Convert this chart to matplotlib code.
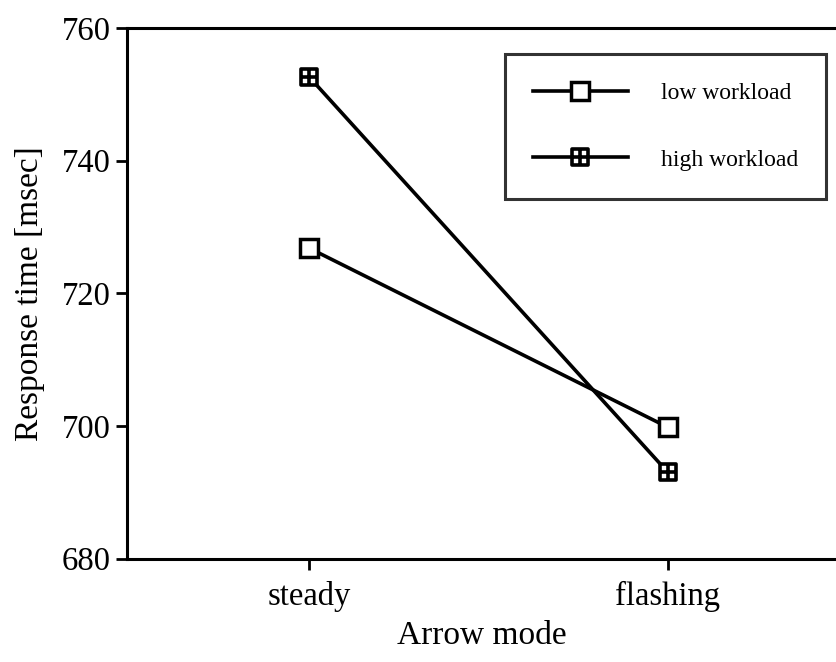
import matplotlib.pyplot as plt
from matplotlib.path import Path

plt.rcParams['font.family'] = ['Liberation Serif', 'DejaVu Serif']

modes = ["steady", "flashing"]
low_workload = [726.8, 699.8]
high_workload = [752.6, 693.0]
yticks = [680, 700, 720, 740, 760]

# square with a cross through it for the high workload marker
verts = [(-1, -1), (1, -1), (1, 1), (-1, 1), (-1, -1),
         (0, -1), (0, 1), (-1, 0), (1, 0)]
codes = [Path.MOVETO, Path.LINETO, Path.LINETO, Path.LINETO, Path.CLOSEPOLY,
         Path.MOVETO, Path.LINETO, Path.MOVETO, Path.LINETO]
grid_square = Path(verts, codes)

fig = plt.figure(figsize=(8.37, 6.62), dpi=100)
ax = fig.add_axes([0.152, 0.156, 0.848, 0.802])

x = list(range(len(modes)))
ax.plot(x, low_workload, color='k', lw=2.6, marker='s', ms=12.5,
        mfc='white', mec='k', mew=2.5, label="low workload", zorder=3)
ax.plot(x, high_workload, color='k', lw=2.6, marker=grid_square, ms=11,
        mfc='white', mec='k', mew=2.6, label="high workload", zorder=3)

ax.set_xlim(-0.507, 1.471)
ax.set_ylim(680, 760)
ax.set_xticks(x)
ax.set_xticklabels(modes)
ax.set_yticks(yticks)
ax.tick_params(axis='both', labelsize=23.5, width=2, length=8, direction='out')
ax.tick_params(axis='y', pad=4)
ax.tick_params(axis='x', pad=8)

for side in ['left', 'top', 'bottom']:
    ax.spines[side].set_linewidth(2.2)
ax.spines['right'].set_visible(False)

ax.set_xlabel("Arrow mode", fontsize=24, labelpad=6)
ax.set_ylabel("Response time [msec]", fontsize=24, labelpad=12)

leg = ax.legend(loc='upper right', bbox_to_anchor=(0.985, 0.95), fontsize=17,
                frameon=True, fancybox=False, edgecolor='k', handlelength=4.0,
                handletextpad=1.4, labelspacing=1.9, borderpad=1.2,
                borderaxespad=0)
leg.get_frame().set_linewidth(2.2)

fig.savefig("out.png", dpi=100)
